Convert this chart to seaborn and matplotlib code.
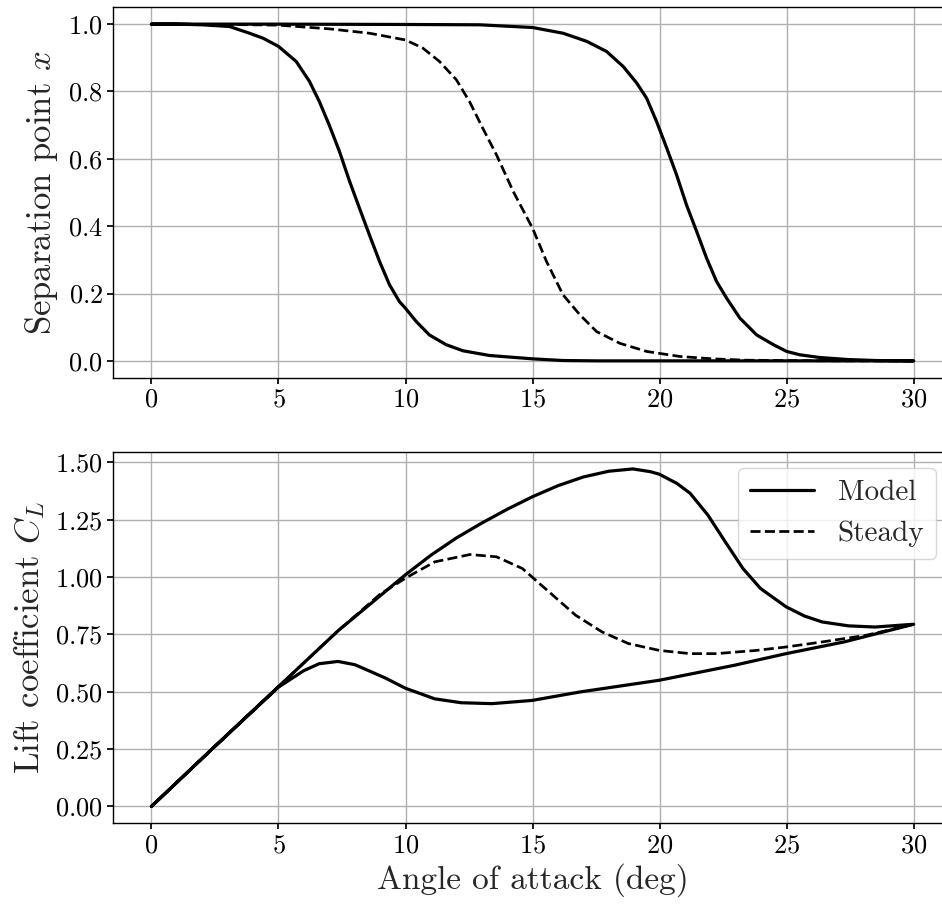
import numpy as np
import pandas as pd
import matplotlib
matplotlib.use("Agg")
import matplotlib.pyplot as plt
import seaborn as sns

# ---------------- data ----------------
# Separation point, model, increasing angle (upper branch)
sep_up_alpha = [0, 5, 10, 12.93, 15, 16.2, 17.13, 17.91, 18.57, 19.1, 19.49, 19.88, 20.28, 20.67,
                21.06, 21.46, 21.85, 22.24, 22.64, 23.16, 23.82, 24.48, 25.0, 25.52, 26.3, 27.4, 28.5, 30]
sep_up_x = [1.0, 1.0, 0.999, 0.998, 0.99, 0.973, 0.949, 0.919, 0.874, 0.825, 0.78, 0.711, 0.632, 0.552,
            0.463, 0.384, 0.305, 0.236, 0.186, 0.127, 0.077, 0.048, 0.028, 0.018, 0.010, 0.004, 0.001, 0.0]
# Separation point, model, decreasing angle (lower branch)
sep_dn_alpha = [30, 25, 20, 17.5, 16.2, 15.0, 13.3, 12.26, 11.6, 10.94, 10.42, 10.0, 9.76, 9.37, 8.98,
                8.58, 8.19, 7.8, 7.4, 7.0, 6.61, 6.22, 5.7, 5.0, 4.4, 3.86, 3.07, 2.0, 1.0, 0]
sep_dn_x = [0.0, 0.0, 0.0, 0.0, 0.001, 0.006, 0.016, 0.030, 0.048, 0.077, 0.117, 0.156, 0.176, 0.226, 0.295,
            0.374, 0.453, 0.533, 0.622, 0.70, 0.77, 0.83, 0.889, 0.934, 0.958, 0.973, 0.993, 0.998, 1.0, 1.0]
# Separation point, steady
sep_st_alpha = [0, 3, 5, 7.0, 8.58, 10.0, 10.68, 11.34, 12.0, 12.52, 13.04, 13.58, 14.24, 15.0,
                15.55, 16.2, 16.86, 17.52, 18.44, 19.49, 20.8, 22.1, 23.4, 25, 27, 30]
sep_st_x = [1.0, 0.999, 0.997, 0.986, 0.973, 0.953, 0.929, 0.889, 0.835, 0.77, 0.691, 0.612, 0.503, 0.394,
            0.295, 0.196, 0.137, 0.087, 0.052, 0.028, 0.013, 0.006, 0.002, 0.001, 0.0, 0.0]

# Lift coefficient, model, increasing angle
cl_up_alpha = [0, 2.5, 5, 7.34, 10, 11, 12, 13, 14, 15, 16, 17, 18, 18.95, 19.64, 19.99,
               20.68, 21.2, 21.9, 22.58, 23.28, 23.97, 24.98, 25.7, 26.4, 27.44, 28.48, 30]
cl_up = [0.0, 0.262, 0.522, 0.765, 1.01, 1.095, 1.17, 1.235, 1.295, 1.35, 1.398, 1.436, 1.461, 1.471,
         1.459, 1.448, 1.408, 1.365, 1.27, 1.154, 1.037, 0.95, 0.870, 0.830, 0.804, 0.787, 0.782, 0.794]
# Lift coefficient, model, decreasing angle
cl_dn_alpha = [30, 27.26, 24.98, 22.93, 19.99, 16.87, 14.98, 13.4, 12.19, 11.15, 10.0, 9.2, 8.38,
               8.0, 7.34, 6.6, 6.0, 5.0, 2.5, 0]
cl_dn = [0.794, 0.717, 0.666, 0.615, 0.55, 0.499, 0.462, 0.448, 0.452, 0.469, 0.515, 0.56, 0.60,
         0.618, 0.632, 0.622, 0.592, 0.520, 0.262, 0.0]
# Lift coefficient, steady
cl_st_alpha = [0, 2.5, 5, 7.34, 9.0, 10.0, 11.15, 12.54, 13.58, 14.6, 15.65, 16.7, 17.73, 18.77,
               19.99, 21.2, 22.24, 23.8, 24.98, 26.4, 28.13, 30]
cl_st = [0.0, 0.262, 0.522, 0.765, 0.925, 0.995, 1.066, 1.098, 1.088, 1.037, 0.935, 0.833, 0.761, 0.71,
         0.68, 0.666, 0.666, 0.68, 0.695, 0.717, 0.746, 0.794]

# ---------------- build tables ----------------
model_sep = pd.DataFrame({"alpha": sep_up_alpha + sep_dn_alpha, "val": sep_up_x + sep_dn_x})
steady_sep = pd.DataFrame({"alpha": sep_st_alpha, "val": sep_st_x})
model_cl = pd.DataFrame({"alpha": cl_up_alpha + cl_dn_alpha, "val": cl_up + cl_dn})
steady_cl = pd.DataFrame({"alpha": cl_st_alpha, "val": cl_st})

# ---------------- style ----------------
sns.set_theme(style="ticks")
plt.rcParams.update({
    "font.family": ["serif"],
    "font.serif": ["cmr10", "DejaVu Serif"],
    "mathtext.fontset": "cm",
    "axes.formatter.use_mathtext": True,
    "axes.edgecolor": "black",
    "axes.linewidth": 1.0,
    "xtick.color": "black",
    "ytick.color": "black",
    "xtick.major.size": 4,
    "ytick.major.size": 4,
    "grid.color": "#b0b0b0",
    "grid.linewidth": 1.0,
    "axes.unicode_minus": False,
    "lines.solid_joinstyle": "round",
    "lines.solid_capstyle": "round",
})

fig = plt.figure(figsize=(9.42, 9.08), dpi=100)
W, H = 942.0, 908.0
ax1 = fig.add_axes([113.3 / W, 1 - 377.7 / H, (951.8 - 113.3) / W, (377.7 - 7.3) / H])
ax2 = fig.add_axes([113.3 / W, 1 - 823.3 / H, (951.8 - 113.3) / W, (823.3 - 452.3) / H])

lw = 2.3
for ax, m, s in [(ax1, model_sep, steady_sep), (ax2, model_cl, steady_cl)]:
    sns.lineplot(data=m, x="alpha", y="val", sort=False, estimator=None, color="black",
                 linewidth=lw, ax=ax, label="Model")
    sns.lineplot(data=s, x="alpha", y="val", sort=False, estimator=None, color="black",
                 linewidth=lw * 0.85, linestyle="--", ax=ax, label="Steady")
    ax.set_xlim(-1.5, 31.5)
    ax.set_xticks([0, 5, 10, 15, 20, 25, 30])
    ax.grid(True)
    ax.tick_params(labelsize=19)
    ax.spines["right"].set_visible(False)

ax1.set_ylim(-0.05, 1.05)
ax1.set_yticks([0.0, 0.2, 0.4, 0.6, 0.8, 1.0])
ax2.set_ylim(-0.0735, 1.5435)
ax2.set_yticks([0.0, 0.25, 0.5, 0.75, 1.0, 1.25, 1.5])
ax1.get_legend().remove()

ax1.set_xlabel("")
ax1.set_ylabel("Separation point $x$", fontsize=25, labelpad=6)
ax2.set_ylabel("Lift coefficient $C_L$", fontsize=25, labelpad=6)
ax2.set_xlabel("Angle of attack (deg)", fontsize=24)

leg = ax2.legend(loc="upper right", bbox_to_anchor=(0.981, 0.958), borderaxespad=0.0,
                 fontsize=21, frameon=True, framealpha=0.8, edgecolor="#cccccc", fancybox=True,
                 handlelength=2.2)

fig.savefig("out.png", dpi=100)
